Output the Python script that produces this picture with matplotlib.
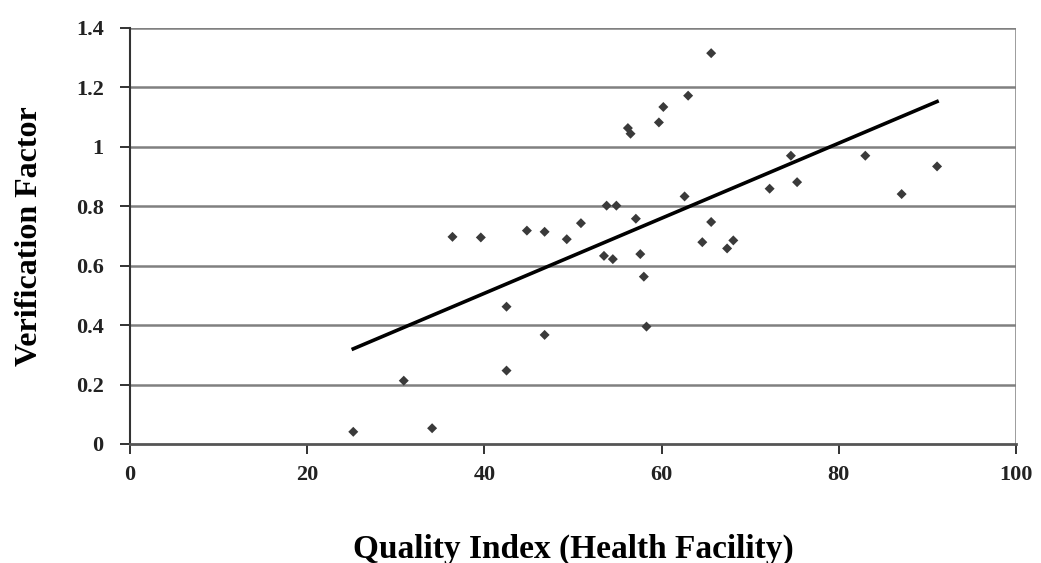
import matplotlib
matplotlib.use("Agg")
import matplotlib.pyplot as plt
import numpy as np

# values
quality_index = [65.6, 63.0, 60.2, 59.7, 56.2, 56.5, 62.6, 53.8, 54.9, 57.1,
                 65.6, 50.9, 44.8, 46.8, 36.4, 39.6, 49.3, 64.6, 68.1, 67.4,
                 53.5, 54.5, 57.6, 58.0, 42.5, 58.3, 46.8, 30.9, 42.5, 25.2,
                 34.1, 74.6, 83.0, 91.1, 75.3, 72.2, 87.1]
verification_factor = [1.315, 1.172, 1.134, 1.082, 1.063, 1.044, 0.833, 0.802, 0.802, 0.758,
                       0.747, 0.743, 0.718, 0.714, 0.697, 0.695, 0.689, 0.679, 0.685, 0.658,
                       0.633, 0.622, 0.639, 0.563, 0.462, 0.395, 0.367, 0.213, 0.247, 0.041,
                       0.053, 0.970, 0.970, 0.934, 0.881, 0.859, 0.841]

x = np.array(quality_index)
y = np.array(verification_factor)

# linear trend line across the data range
slope, intercept = np.polyfit(x, y, 1)
xs = np.array([x.min(), x.max()])

plt.rcParams["font.family"] = ["Liberation Serif", "DejaVu Serif"]
plt.rcParams["font.weight"] = "bold"

fig = plt.figure(figsize=(10.41, 5.63), dpi=100)
ax = fig.add_axes([0.1249, 0.2114, 0.851, 0.739])

for v in np.arange(0.2, 1.41, 0.2):
    ax.axhline(v, color="#808080", lw=1.8, zorder=1)
ax.axvline(100, color="#808080", lw=1.8, zorder=1)

ax.scatter(x, y, marker="D", s=26, color="#3a3a3a", edgecolors="none", zorder=3)
ax.plot(xs, slope * xs + intercept, color="black", lw=2.6, zorder=4)

ax.set_xlim(0, 100)
ax.set_ylim(0, 1.4)
ax.set_xticks(range(0, 101, 20))
ax.set_yticks([0, 0.2, 0.4, 0.6, 0.8, 1.0, 1.2, 1.4])
ax.set_yticklabels(["0", "0.2", "0.4", "0.6", "0.8", "1", "1.2", "1.4"])

for side in ["top", "right"]:
    ax.spines[side].set_visible(False)
ax.spines["left"].set_color("#333333")
ax.spines["bottom"].set_color("#555555")
ax.spines["left"].set_linewidth(1.5)
ax.spines["bottom"].set_linewidth(2.0)

ax.tick_params(axis="both", labelsize=16, colors="#222222", length=7, width=1.3)
ax.tick_params(axis="y", pad=12)
ax.tick_params(axis="x", pad=8)

ax.set_xlabel("Quality Index (Health Facility)", fontsize=24, fontweight="bold")
ax.xaxis.set_label_coords(0.5, -0.215)
ax.set_ylabel("Verification Factor", fontsize=23, fontweight="bold")
ax.yaxis.set_label_coords(-0.097, 0.5)

fig.savefig("out.png", dpi=100, facecolor="white")
